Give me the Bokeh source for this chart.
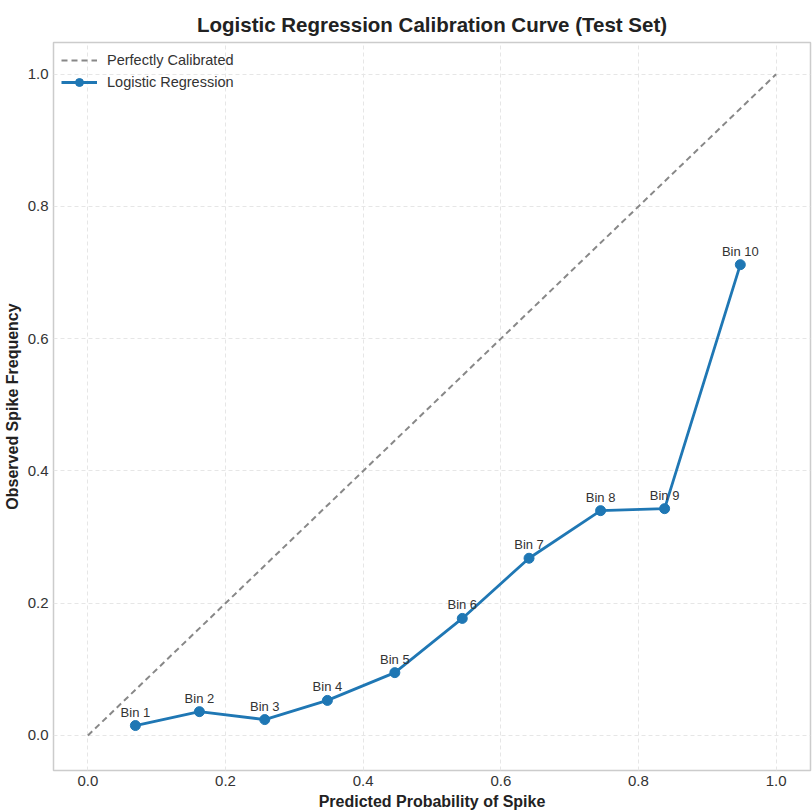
from bokeh.plotting import figure
from bokeh.models import ColumnDataSource, Range1d, FixedTicker, Legend, LegendItem, PrintfTickFormatter
from bokeh.core.properties import value
from bokeh.embed import file_html
from bokeh.resources import INLINE

# Calibration bins: mean predicted probability vs observed frequency
bin_labels = ["Bin 1", "Bin 2", "Bin 3", "Bin 4", "Bin 5",
              "Bin 6", "Bin 7", "Bin 8", "Bin 9", "Bin 10"]
mean_predicted = [0.069, 0.162, 0.257, 0.348, 0.446, 0.544, 0.641, 0.745, 0.838, 0.948]
observed_freq = [0.015, 0.036, 0.024, 0.053, 0.095, 0.177, 0.268, 0.340, 0.343, 0.712]
diagonal = [0.0, 1.0]
tick_values = [0.0, 0.2, 0.4, 0.6, 0.8, 1.0]

FONT = "Liberation Sans"

p = figure(width=812, height=812, output_backend="svg", toolbar_location=None,
           x_range=Range1d(-0.05, 1.05), y_range=Range1d(-0.053, 1.048),
           min_border_left=53, min_border_right=2, min_border_top=42, min_border_bottom=42)

p.title.text = "Logistic Regression Calibration Curve (Test Set)"
p.title.align = "center"
p.title.vertical_align = "top"
p.title.text_line_height = 0.5
p.title.text_font = FONT
p.title.text_font_size = "20.5px"
p.title.text_font_style = "bold"
p.title.text_color = "#222222"
p.title.standoff = 10

p.outline_line_color = "#cccccc"
p.outline_line_width = 1.5
p.background_fill_color = "white"

for ax in (p.xaxis, p.yaxis):
    ax.ticker = FixedTicker(ticks=tick_values)
    ax.formatter = PrintfTickFormatter(format="%.1f")
    ax.axis_line_color = None
    ax.major_tick_line_color = None
    ax.minor_tick_line_color = None
    ax.major_tick_out = 0
    ax.major_tick_in = 0
    ax.major_label_standoff = 5
    ax.axis_label_standoff = 4
    ax.major_label_text_font = FONT
    ax.major_label_text_font_size = "15px"
    ax.major_label_text_color = "#333333"
    ax.axis_label_text_font = FONT
    ax.axis_label_text_font_size = "16px"
    ax.axis_label_text_font_style = "bold"
    ax.axis_label_text_color = "#222222"

p.xaxis.axis_label = "Predicted Probability of Spike"
p.yaxis.axis_label = "Observed Spike Frequency"

for g in (p.xgrid, p.ygrid):
    g.grid_line_color = "#e6e6e6"
    g.grid_line_dash = "4 3"
    g.grid_line_width = 1

diag = p.line(diagonal, diagonal, line_color="#888888", line_width=2, line_dash="6 4")

src = ColumnDataSource(data=dict(x=mean_predicted, y=observed_freq, label=bin_labels))
curve = p.line("x", "y", source=src, line_color="#1f77b4", line_width=2.8)
dots = p.scatter("x", "y", source=src, size=10, fill_color="#1f77b4", line_color="#1f77b4")

p.text("x", "y", text="label", source=src, y_offset=-6,
       text_align="center", text_baseline="bottom",
       text_font=value(FONT), text_font_size="13px", text_color="#333333")

legend = Legend(items=[
    LegendItem(label="Perfectly Calibrated", renderers=[diag]),
    LegendItem(label="Logistic Regression", renderers=[curve, dots]),
], location="top_left")
legend.border_line_color = None
legend.background_fill_alpha = 0
legend.label_text_font = FONT
legend.label_text_font_size = "14.5px"
legend.label_text_color = "#333333"
legend.glyph_width = 36
legend.label_standoff = 10
legend.spacing = 2
legend.margin = 8
p.add_layout(legend)

open("out.html", "w").write(file_html(p, INLINE))
